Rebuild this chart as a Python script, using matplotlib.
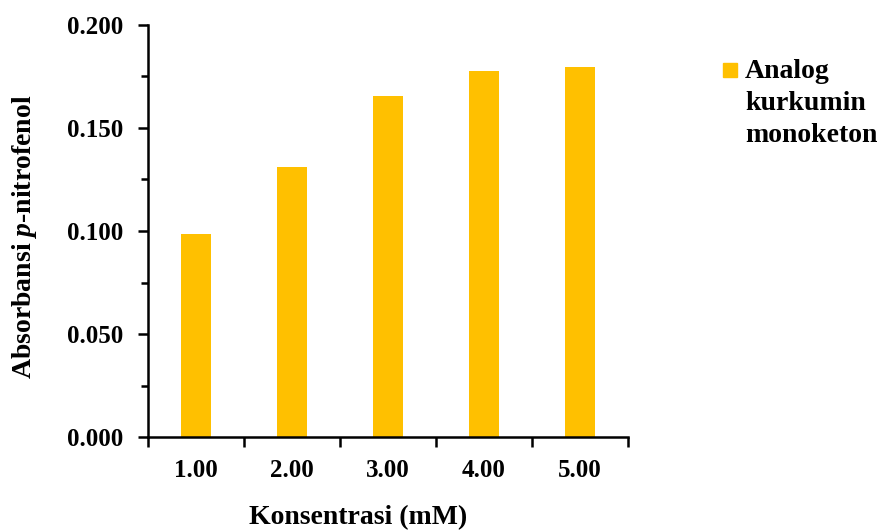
import matplotlib
matplotlib.use("Agg")
import matplotlib.pyplot as plt
from matplotlib.ticker import MultipleLocator, FixedLocator
from matplotlib.patches import Rectangle

plt.rcParams['font.family'] = ['Liberation Serif', 'DejaVu Serif']
plt.rcParams['font.weight'] = 'bold'
plt.rcParams['mathtext.fontset'] = 'custom'
plt.rcParams['mathtext.it'] = 'Liberation Serif:italic:bold'
plt.rcParams['mathtext.rm'] = 'Liberation Serif:bold'

# data
categories = ['1.00', '2.00', '3.00', '4.00', '5.00']
absorbansi = [0.0985, 0.131, 0.1657, 0.1775, 0.1795]
series_name = 'Analog\nkurkumin\nmonoketon'
bar_color = '#FFC000'

fig = plt.figure(figsize=(8.87, 5.32), dpi=100)
ax = fig.add_axes([148/887, 1-437/532, 480/887, 412/532])

x = list(range(len(categories)))
ax.bar(x, absorbansi, width=0.31, color=bar_color, label=series_name)

ax.set_xlim(-0.5, len(categories) - 0.5)
ax.set_ylim(0, 0.2)

for s in ['top', 'right']:
    ax.spines[s].set_visible(False)
for s in ['left', 'bottom']:
    ax.spines[s].set_linewidth(1.8)

# y axis ticks
ax.yaxis.set_major_locator(MultipleLocator(0.05))
ax.yaxis.set_minor_locator(MultipleLocator(0.025))
ax.yaxis.set_major_formatter(lambda v, p: f'{v:.3f}')
ax.tick_params(axis='y', which='major', length=7, width=1.8, pad=11, labelsize=18)
ax.tick_params(axis='y', which='minor', length=5, width=1.8)

# x axis: ticks at category boundaries, labels at centres
ax.xaxis.set_major_locator(FixedLocator([i - 0.5 for i in range(len(categories) + 1)]))
ax.xaxis.set_major_formatter(lambda v, p: '')
ax.xaxis.set_minor_locator(FixedLocator(x))
ax.set_xticklabels(categories, minor=True)
ax.tick_params(axis='x', which='major', length=7, width=1.8)
ax.tick_params(axis='x', which='minor', length=0, pad=16, labelsize=18)

fig.text(25/887, 1-237/532, r'Absorbansi $\mathit{p}$-nitrofenol', rotation=90,
         ha='center', va='center', fontsize=20, fontweight='bold')
fig.text(358/887, 1-518/532, 'Konsentrasi (mM)', ha='center', va='center',
         fontsize=20, fontweight='bold')

# legend
fig.patches.append(Rectangle((723/887, 1-77/532), 14/887, 14/532,
                             transform=fig.transFigure, color=bar_color))
fig.text(745/887, 1-59/532, series_name, ha='left', va='top', fontsize=20,
         fontweight='bold', linespacing=1.38)

fig.savefig('out.png', dpi=100)
